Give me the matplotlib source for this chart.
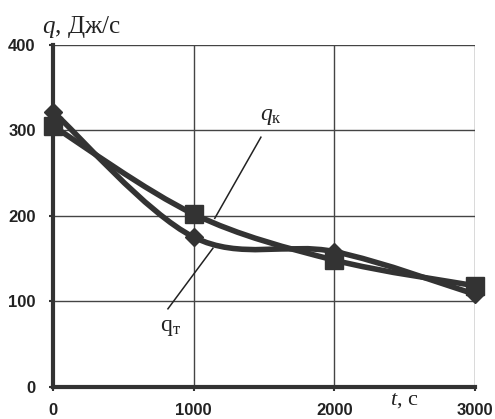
import matplotlib
matplotlib.use("Agg")
import matplotlib.pyplot as plt
from matplotlib.path import Path
from matplotlib.patches import PathPatch
import numpy as np

plt.rcParams['mathtext.fontset'] = 'custom'
plt.rcParams['mathtext.rm'] = 'Liberation Serif'
plt.rcParams['mathtext.it'] = 'Liberation Serif:italic'

t_vals = [0, 1000, 2000, 3000]
q_t = [322, 175, 158, 108]   # diamonds
q_k = [305, 202, 148, 118]   # squares
x_ticks = [0, 1000, 2000, 3000]
y_ticks = [0, 100, 200, 300, 400]

col = '#333333'

fig = plt.figure(figsize=(4.95, 4.19), dpi=100)
ax = fig.add_axes([53/495, 1-386.5/419, (475-53)/495, (386.5-45)/419])
ax.set_xlim(0, 3000)
ax.set_ylim(0, 400)


def smooth_path(xs, ys):
    P = np.column_stack([xs, ys]).astype(float)
    n = len(P)
    verts = [P[0]]
    codes = [Path.MOVETO]
    for i in range(n - 1):
        p0 = P[i - 1] if i > 0 else P[i]
        p1 = P[i]
        p2 = P[i + 1]
        p3 = P[i + 2] if i + 2 < n else P[i + 1]
        c1 = p1 + (p2 - p0) / 6.0
        c2 = p2 - (p3 - p1) / 6.0
        verts += [c1, c2, p2]
        codes += [Path.CURVE4] * 3
    return Path(verts, codes)


for ys, mk, ms in [(q_k, 's', 13), (q_t, 'D', 9.5)]:
    ax.add_patch(PathPatch(smooth_path(t_vals, ys), fill=False, edgecolor=col,
                           lw=4, zorder=3, capstyle='round', joinstyle='round'))
    ax.plot(t_vals, ys, linestyle='none', marker=mk, ms=ms, color=col,
            zorder=4, clip_on=False)

ax.set_xticks(x_ticks)
ax.set_yticks(y_ticks)
ax.set_xticklabels([str(v) for v in x_ticks], fontfamily='Liberation Sans',
                   fontweight='bold', fontsize=12, color='#222222')
ax.set_yticklabels([str(v) for v in y_ticks], fontfamily='Liberation Sans',
                   fontweight='bold', fontsize=12, color='#222222')
ax.tick_params(axis='both', direction='out', length=3, width=1.5, color=col)
ax.tick_params(axis='x', pad=9)
ax.tick_params(axis='y', pad=9.5)
ax.grid(True, color='#444444', lw=1.0)
ax.set_axisbelow(True)
for s in ['top', 'right']:
    ax.spines[s].set_visible(False)
for s in ['left', 'bottom']:
    ax.spines[s].set_linewidth(3)
    ax.spines[s].set_color(col)

# axis titles
fig.text(42/495, 1-33/419, r'$q$, Дж/с', fontfamily='Liberation Serif',
         fontsize=18, color='#222222', ha='left', va='baseline')
fig.text(390/495, 1-405/419, r'$t$, с', fontfamily='Liberation Serif',
         fontsize=16, color='#222222', ha='left', va='baseline')

# pointer lines and labels
ax.plot([1478, 1150], [292, 197], color='#222222', lw=1.1, zorder=5)
ax.plot([1137, 817], [162, 91], color='#222222', lw=1.1, zorder=5)
ax.text(1550, 312, r'$q_{\mathrm{к}}$', fontfamily='Liberation Serif',
        fontsize=17, color='#222222', ha='center', va='baseline')
ax.text(832, 81, r'q$_{\mathrm{т}}$', fontfamily='Liberation Serif',
        fontsize=17, color='#222222', ha='center', va='top')

fig.savefig('out.png', dpi=100)
